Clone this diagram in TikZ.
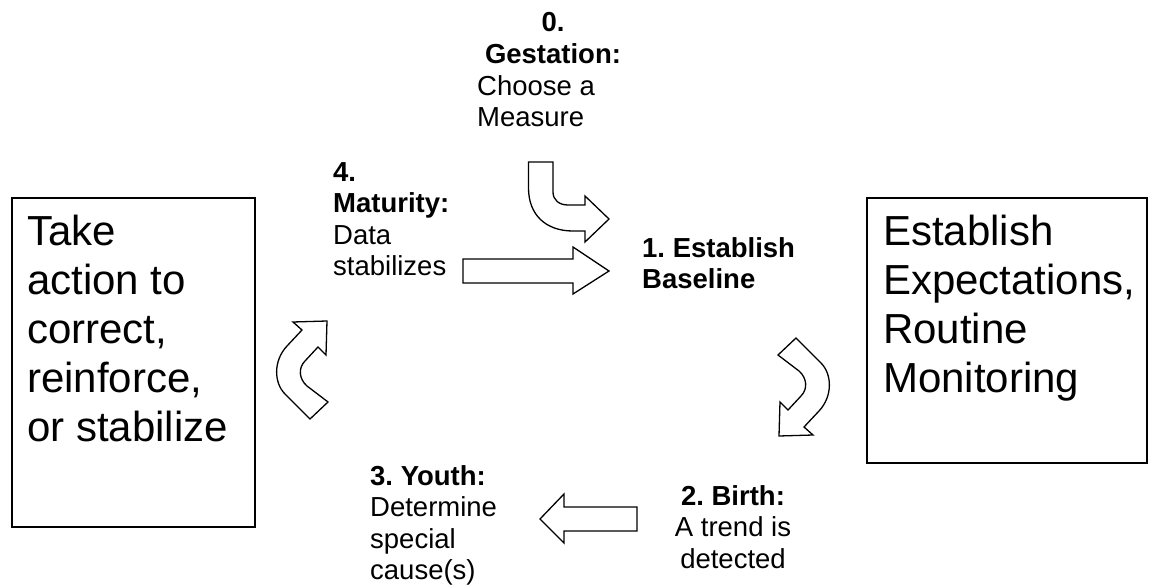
\documentclass[tikz,border=0pt]{standalone}
\usepackage{fontspec}
\setmainfont{Liberation Sans}
\frenchspacing
\begin{document}
\begin{tikzpicture}[x=1pt,y=-1pt,
  blockarrow/.style={draw=black,line width=1.3pt,fill=white,line join=miter},
  stagebox/.style={draw=black,line width=1.8pt},
  smalltext/.style={inner sep=0pt,font=\fontsize{27.5}{31.6}\selectfont},
  bigtext/.style={inner sep=0pt,align=left,anchor=north west,font=\fontsize{42}{49}\selectfont}]
\useasboundingbox (0,0) rectangle (1152,586);
% side boxes
\draw[stagebox] (12,198) rectangle (255,527);
\draw[stagebox] (867,198) rectangle (1147,463);
\node[bigtext] (action) at (27,215) {Take\\action to\\correct,\\reinforce,\\or stabilize};
\node[bigtext] (expect) at (883,215) {Establish\\Expectations,\\Routine\\Monitoring};
% stage labels
\node[smalltext,align=center,anchor=north] (gesthead) at (553,12) {\textbf{0.}\\\textbf{Gestation:}};
\node[smalltext,align=left,anchor=north west] (gestbody) at (477,75) {Choose a\\Measure};
\node[smalltext,align=left,anchor=north west] (maturity) at (333,162) {\textbf{4.}\\\textbf{Maturity:}\\Data\\stabilizes};
\node[smalltext,align=left,anchor=north west] (baseline) at (642,237) {\textbf{1. Establish}\\\textbf{Baseline}};
\node[smalltext,align=center,anchor=north] (birth) at (733,485) {\textbf{2. Birth:}\\A trend is\\detected};
\node[smalltext,align=left,anchor=north west] (youth) at (370,465) {\textbf{3. Youth:}\\Determine\\special\\cause(s)};
% block arrows
\draw[blockarrow] (528.5,162) -- (528.5,188) .. controls (528.5,215) and (546,231) .. (573,231)
  -- (585,231) -- (585,242) -- (609,219) -- (585,196) -- (585,205) -- (568,205)
  .. controls (559,205) and (553,200) .. (553,192) -- (553,162) -- cycle;
\draw[blockarrow] (463,259) -- (573,259) -- (573,247) -- (609,271) -- (573,294) -- (573,283) -- (463,283) -- cycle;
\draw[blockarrow] (796,338) -- (821,363) .. controls (832,374) and (833,396) .. (819,411)
  -- (804,427) -- (813,435) -- (779,436) -- (780,402) -- (788,410) -- (801,396)
  .. controls (808,389) and (807,378) .. (799,371) -- (778,355) -- cycle;
\draw[blockarrow] (637,507) -- (564,507) -- (564,494) -- (540,519) -- (564,543) -- (564,531) -- (637,531) -- cycle;
\draw[blockarrow] (310,419) -- (285,394) .. controls (274,383) and (273,361) .. (287,346)
  -- (302,330) -- (293,322) -- (327,321) -- (326,355) -- (318,347) -- (305,361)
  .. controls (298,368) and (299,379) .. (307,386) -- (328,402) -- cycle;
\end{tikzpicture}
\end{document}
